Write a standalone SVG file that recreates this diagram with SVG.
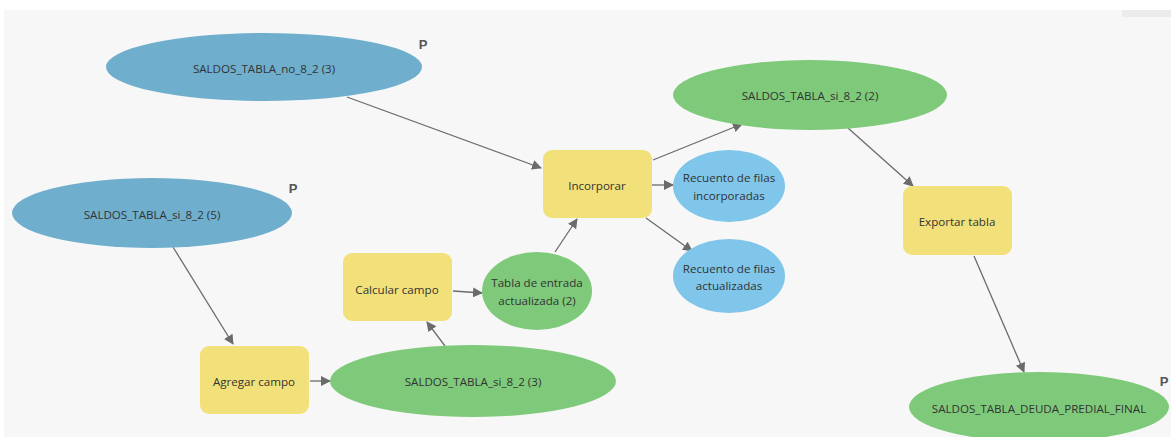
<svg xmlns="http://www.w3.org/2000/svg" width="1171" height="437" viewBox="0 0 1171 437">
<defs>
<marker id="arr" viewBox="0 0 10 10" refX="9" refY="5" markerWidth="10" markerHeight="10" markerUnits="userSpaceOnUse" orient="auto">
<path d="M0,0 L10,5 L0,10 z" fill="#6b6b6b"/>
</marker>
<style>
.bg{fill:#f7f7f7}
.in{fill:#6fafcd}
.out{fill:#7fca7a}
.tool{fill:#f2e17a}
.der{fill:#7fc6ea}
.t{font-family:"Open Sans","Liberation Sans",sans-serif;font-size:11.6px;fill:#333;text-anchor:middle;dominant-baseline:central}
.p{font-family:"Liberation Sans",sans-serif;font-size:13px;font-weight:bold;fill:#555;text-anchor:middle;dominant-baseline:central}
.e{stroke:#6b6b6b;stroke-width:1.3;fill:none;marker-end:url(#arr)}
</style>
</defs>
<rect x="0" y="0" width="1171" height="437" fill="#ffffff"/>
<rect class="bg" x="4" y="10" width="1167" height="427"/>
<rect x="1122" y="10" width="49" height="7" fill="#ececec"/>

<g id="connectors">
<line class="e" x1="347" y1="97" x2="541" y2="168"/>
<line class="e" x1="173" y1="247" x2="233" y2="344"/>
<line class="e" x1="310" y1="381" x2="330" y2="381"/>
<line class="e" x1="445" y1="346" x2="427" y2="322"/>
<line class="e" x1="453" y1="291" x2="482" y2="293"/>
<line class="e" x1="555" y1="252" x2="577" y2="219"/>
<line class="e" x1="653" y1="160" x2="742" y2="124"/>
<line class="e" x1="652" y1="185" x2="673" y2="185"/>
<line class="e" x1="646" y1="218" x2="692" y2="251"/>
<line class="e" x1="848" y1="128" x2="913" y2="186"/>
<line class="e" x1="974" y1="256" x2="1024" y2="372"/>
</g>

<g id="n_no_8_2_3">
<ellipse class="in" cx="264" cy="67" rx="158" ry="34"/>
<text class="t" x="264" y="68">SALDOS_TABLA_no_8_2 (3)</text>
<text class="p" x="423" y="44">P</text>
</g>
<g id="n_si_8_2_5">
<ellipse class="in" cx="152" cy="213" rx="140" ry="35"/>
<text class="t" x="152" y="214">SALDOS_TABLA_si_8_2 (5)</text>
<text class="p" x="293" y="188">P</text>
</g>
<g id="n_incorporar">
<rect class="tool" x="543" y="150" width="109" height="68" rx="9"/>
<text class="t" x="597" y="185">Incorporar</text>
</g>
<g id="n_si_8_2_2">
<ellipse class="out" cx="810" cy="95" rx="137" ry="35"/>
<text class="t" x="810" y="95">SALDOS_TABLA_si_8_2 (2)</text>
</g>
<g id="n_rec_inc">
<ellipse class="der" cx="729" cy="186" rx="56" ry="36"/>
<text class="t" x="729" y="177">Recuento de filas</text>
<text class="t" x="729" y="195">incorporadas</text>
</g>
<g id="n_rec_act">
<ellipse class="der" cx="729" cy="276" rx="56" ry="37"/>
<text class="t" x="729" y="268">Recuento de filas</text>
<text class="t" x="729" y="285">actualizadas</text>
</g>
<g id="n_exportar">
<rect class="tool" x="903" y="186" width="109" height="69" rx="9"/>
<text class="t" x="957" y="221">Exportar tabla</text>
</g>
<g id="n_final">
<ellipse class="out" cx="1039" cy="407" rx="130" ry="35"/>
<text class="t" x="1039" y="408">SALDOS_TABLA_DEUDA_PREDIAL_FINAL</text>
<text class="p" x="1164" y="381">P</text>
</g>
<g id="n_calcular">
<rect class="tool" x="343" y="253" width="109" height="68" rx="9"/>
<text class="t" x="397" y="289">Calcular campo</text>
</g>
<g id="n_tabla_entrada">
<ellipse class="out" cx="537" cy="291" rx="55" ry="39"/>
<text class="t" x="537" y="282">Tabla de entrada</text>
<text class="t" x="537" y="300">actualizada (2)</text>
</g>
<g id="n_agregar">
<rect class="tool" x="200" y="346" width="109" height="68" rx="9"/>
<text class="t" x="254" y="381">Agregar campo</text>
</g>
<g id="n_si_8_2_3">
<ellipse class="out" cx="473" cy="381" rx="143" ry="36"/>
<text class="t" x="473" y="381">SALDOS_TABLA_si_8_2 (3)</text>
</g>
</svg>
